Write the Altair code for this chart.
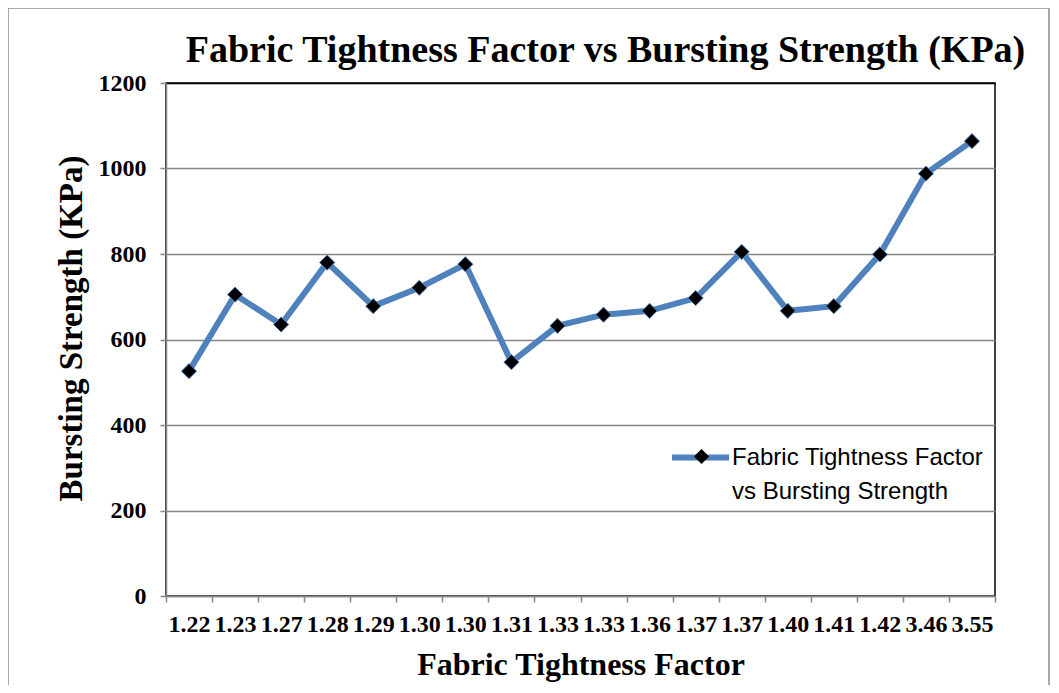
import altair as alt
import pandas as pd

tightness_labels = ["1.22", "1.23", "1.27", "1.28", "1.29", "1.30", "1.30", "1.31", "1.33",
                    "1.33", "1.36", "1.37", "1.37", "1.40", "1.41", "1.42", "3.46", "3.55"]
bursting_kpa = [526, 705, 635, 780, 678, 721, 776, 547, 632,
                658, 667, 697, 805, 667, 678, 799, 988, 1064]
y_ticks = [0, 200, 400, 600, 800, 1000, 1200]
series_name = "Fabric Tightness Factor vs Bursting Strength"
legend_lines = ["Fabric Tightness Factor", "vs Bursting Strength"]

df = pd.DataFrame({
    "idx": list(range(len(tightness_labels))),
    "label": tightness_labels,
    "kpa": bursting_kpa,
    "series": series_name,
    "series_pt": series_name,
})

label_expr = "[" + ",".join(f"'{l}'" for l in tightness_labels) + "][datum.value]"
legend_expr = "[" + ",".join(f"'{l}'" for l in legend_lines) + "]"

W, H = 829, 513
PL, PT, PR, PB = 158, 75, 56, 89

x_enc = alt.X(
    "idx:O",
    scale=alt.Scale(type="band", paddingInner=0, paddingOuter=0),
    axis=alt.Axis(
        title="Fabric Tightness Factor",
        labelExpr=label_expr,
        labelAngle=0,
        tickBand="extent",
        grid=False,
        labelOverlap=False,
        labelPadding=10,
        titlePadding=13,
    ),
)
y_enc = alt.Y(
    "kpa:Q",
    scale=alt.Scale(domain=[0, 1200]),
    axis=alt.Axis(
        title="Bursting Strength (KPa)",
        values=y_ticks,
        format="d",
        grid=True,
        labelPadding=14,
        titlePadding=10,
        titleY=245,
        titleFontSize=33,
        gridColor={"condition": {"test": "datum.value == 1200", "value": "black"}, "value": "#868686"},
    ),
)

base = alt.Chart(df)

line = base.mark_line(strokeWidth=6).encode(
    x=x_enc,
    y=y_enc,
    color=alt.Color(
        "series:N",
        scale=alt.Scale(range=["#4F81BD"]),
        legend=alt.Legend(
            orient="none", legendX=503, legendY=343, title=None,
            symbolType="stroke", symbolSize=3249, symbolStrokeWidth=6,
            labelExpr=legend_expr, labelFont="Liberation Sans", labelFontSize=24,
            labelColor="black", labelOffset=0, labelLimit=400,
        ),
    ),
)

points = base.mark_point(filled=True, fill="black", stroke="#4F81BD", strokeWidth=1,
                         size=230, opacity=1).encode(
    x=x_enc,
    y=y_enc,
    shape=alt.Shape(
        "series_pt:N",
        scale=alt.Scale(range=["diamond"]),
        legend=alt.Legend(
            orient="none", legendX=527, legendY=365, title=None,
            symbolFillColor="black", symbolStrokeColor="#4F81BD", symbolStrokeWidth=1,
            symbolSize=230, labelExpr="''", symbolOpacity=1,
        ),
    ),
)

frame = alt.Chart(pd.DataFrame({"f": [0]})).mark_rect(
    filled=False, stroke="#8c8c8c", strokeWidth=1.5
).encode(
    x=alt.value(-PL), x2=alt.value(W + PR - 2), y=alt.value(-PT), y2=alt.value(H + PB + 40)
)

chart = alt.layer(frame, line, points).properties(
    width=W,
    height=H,
    padding={"left": PL, "top": PT, "right": PR, "bottom": PB},
    autosize=alt.AutoSizeParams(type="none"),
    title=alt.TitleParams(
        "Fabric Tightness Factor vs Bursting Strength (KPa)",
        font="Liberation Serif", fontSize=38, fontWeight="bold", color="black",
        anchor="middle", frame="group", dx=25, offset=-93, baseline="alphabetic",
    ),
).configure(
    style={"guide-label": {"lineHeight": 34}}
).configure_view(
    stroke="black", strokeWidth=1.5
).configure_axis(
    domainColor="#868686", domainWidth=1.5, tickColor="#868686", tickWidth=1.5, tickSize=6,
    gridWidth=1.5, labelFont="Liberation Serif", labelFontWeight="bold", labelFontSize=24,
    labelColor="black", titleFont="Liberation Serif", titleFontWeight="bold",
    titleFontSize=32, titleColor="black",
)

chart.save("out.html", embed_options={"renderer": "svg", "actions": False})
